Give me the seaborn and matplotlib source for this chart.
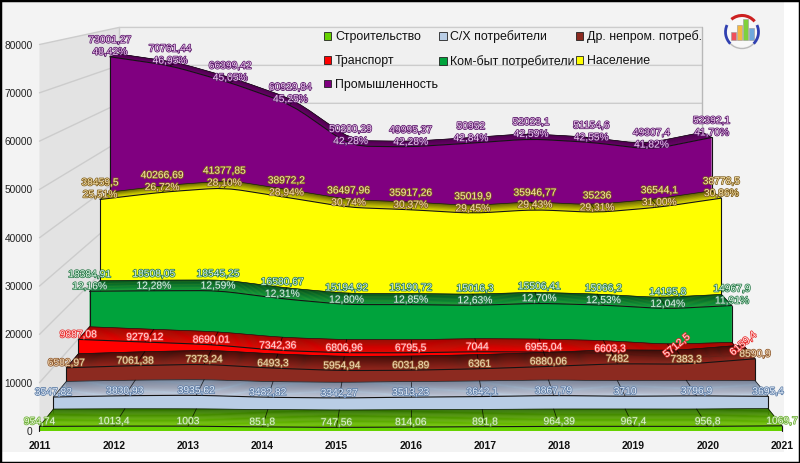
import numpy as np
import matplotlib
matplotlib.use("Agg")
import matplotlib.pyplot as plt
import matplotlib.patheffects as pe
from matplotlib.patches import Patch, Rectangle, Arc, Circle
from matplotlib.colors import to_rgb
import seaborn as sns

# Values
years = [2011, 2012, 2013, 2014, 2015, 2016, 2017, 2018, 2019, 2020, 2021]
stroy = [954.74, 1013.4, 1003, 851.8, 747.56, 814.06, 891.8, 964.39, 967.4, 956.8, 1069.7]
selhoz = [3547.82, 3830.93, 3935.62, 3482.82, 3342.27, 3513.23, 3642.1, 3867.79, 3710, 3796.9, 3695.4]
drugie = [6582.97, 7061.38, 7373.24, 6493.3, 5954.94, 6031.89, 6361, 6880.06, 7482, 7383.3, 8590.9]
transport = [9887.08, 9279.12, 8690.01, 7342.36, 6806.96, 6795.5, 7044, 6955.04, 6603.3, 5712.5, 6159.4]
kombyt = [18384.91, 18508.05, 18545.25, 16580.67, 15194.92, 15190.72, 15016.3, 15506.41, 15066.2, 14195.8, 14967.9]
naselenie = [38459.5, 40266.69, 41377.85, 38972.2, 36497.96, 35917.26, 35019.9, 35946.77, 35236, 36544.1, 38778.5]
prom = [73001.27, 70761.44, 66399.42, 60929.84, 50200.29, 49995.37, 50952, 52023.1, 51154.6, 49307.4, 52392.1]

pct_kombyt = [12.16, 12.28, 12.59, 12.31, 12.80, 12.85, 12.63, 12.70, 12.53, 12.04, 11.91]
pct_naselenie = [25.51, 26.72, 28.10, 28.94, 30.74, 30.37, 29.45, 29.43, 29.31, 31.00, 30.86]
pct_prom = [48.42, 46.95, 45.05, 45.25, 42.28, 42.28, 42.84, 42.59, 42.55, 41.82, 41.70]

y_ticks = [0, 10000, 20000, 30000, 40000, 50000, 60000, 70000, 80000]
logo_bars = [8, 15, 21, 12]
logo_colors = ["#f0505a", "#f5b942", "#7fd13b", "#6fa8dc"]

# name, values, percents, face, top back, top front, label fill, label edge
series = [
    ("Строительство", stroy, None, "#66d200", "#2f6e00", "#72c800", "#e4f8d0", "#6fae3a"),
    ("С/Х потребители", selhoz, None, "#b9cde5", "#76889f", "#c4d3e6", "#e2ebf7", "#5f7fa8"),
    ("Др. непром. потреб.", drugie, None, "#8c2a20", "#3a0d08", "#8c2a20", "#f5dcb8", "#8f5a30"),
    ("Транспорт", transport, None, "#ff0000", "#a80000", "#f00000", "#ffe0e0", "#e83030"),
    ("Ком-быт потребители", kombyt, pct_kombyt, "#00a33c", "#004a1c", "#0a9a40", "#e0f8e8", "#2a7a4a"),
    ("Население", naselenie, pct_naselenie, "#ffff00", "#5c5c00", "#e6e600", "#f8e2a8", "#806020"),
    ("Промышленность", prom, pct_prom, "#800080", "#4a004a", "#660066", "#f0c8f0", "#5a1a6a"),
]

# Perspective of the chart: everything recedes to one point as depth grows
van_year = 2016
van_value = 96480
depth_k = 0.039
n_depth = 7


def project(x, y, depth):
    s = 1 / (1 + depth_k * depth)
    return van_year + (np.asarray(x, float) - van_year) * s, van_value + (np.asarray(y, float) - van_value) * s


def round_corners(x, y, ratio=0.16, passes=2):
    pts = np.column_stack([x, y])
    for _ in range(passes):
        a, b = pts[:-1], pts[1:]
        cut = np.empty((len(a) * 2, 2))
        cut[0::2] = a + (b - a) * ratio
        cut[1::2] = b - (b - a) * ratio
        pts = np.vstack([pts[0], cut, pts[-1]])
    return pts[:, 0], pts[:, 1]


def mix(c1, c2, t):
    return tuple(np.array(to_rgb(c1)) * (1 - t) + np.array(to_rgb(c2)) * t)


sns.set_theme(style="white")
plt.rcParams["font.family"] = ["Liberation Sans", "DejaVu Sans"]

fig = plt.figure(figsize=(8, 4.63), dpi=100, facecolor="white")
ax = fig.add_axes([39.5 / 800, 32 / 463, 742.5 / 800, 386.5 / 463], facecolor="none")
ax.set_xlim(2011, 2021)
ax.set_ylim(0, 80000)
sns.despine(ax=ax, left=True, bottom=True)
ax.set_xticks(years)
ax.set_xticklabels([str(y) for y in years], fontsize=7.5, fontweight="bold", color="#111111")
ax.set_yticks(y_ticks)
ax.set_yticklabels([str(v) for v in y_ticks], fontsize=7.3, color="#222222")
ax.tick_params(axis="x", length=0, pad=7.5)
ax.tick_params(axis="y", length=0, pad=5)

# background panel and frame
fig.patches.append(Rectangle((0, 11 / 463), 783.5 / 800, 452 / 463, transform=fig.transFigure,
                             facecolor="#f3f3f3", edgecolor="none", zorder=-5))
fig.patches.append(Rectangle((0, 0), 1, 1, transform=fig.transFigure,
                             facecolor="none", edgecolor="black", linewidth=2.5, zorder=20))

# walls
wx0, wy0 = project(2011, 0, 0)
wx1, wy1 = project(2011, 80000, 0)
wx2, wy2 = project(2011, 80000, n_depth)
wx3, wy3 = project(2011, 0, n_depth)
wx4, wy4 = project(2021, 80000, n_depth)
wx5, wy5 = project(2021, 0, n_depth)
ax.fill([wx0, wx1, wx2, wx3], [wy0, wy1, wy2, wy3], color="#e3e3e3", lw=0, clip_on=False, zorder=1)
ax.fill([wx3, wx2, wx4, wx5], [wy3, wy2, wy4, wy5], color="#f0f0f0", lw=0, clip_on=False, zorder=1)
for v in y_ticks:
    xa, ya = project(2011, v, 0)
    xb, yb = project(2011, v, n_depth)
    xc, yc = project(2021, v, n_depth)
    ax.plot([xa, xb, xc], [ya, yb, yc], color="#cccccc", lw=1, clip_on=False, zorder=1.5)
ax.plot([wx4, wx5], [wy4, wy5], color="#b8b8b8", lw=1, clip_on=False, zorder=1.5)
ax.plot([wx2, wx3], [wy2, wy3], color="#cccccc", lw=1, clip_on=False, zorder=1.5)

# series back to front, each one starts where the one before it ends
z = 2
for depth in range(len(series) - 1, -1, -1):
    name, values, pcts, face, top_back, top_front, fill_c, edge_c = series[depth]
    sx, sv = round_corners(years, values)

    # top surface as thin strips to get the gradient
    steps = 14
    for i in range(steps):
        t0 = depth + 1 - i / steps
        t1 = depth + 1 - (i + 1) / steps
        xa, ya = project(sx, sv, t0)
        xb, yb = project(sx, sv, t1)
        ax.fill(np.r_[xa, xb[::-1]], np.r_[ya, yb[::-1]], color=mix(top_back, top_front, (i + 0.5) / steps),
                lw=0.3, clip_on=False, zorder=z)
    z += 1

    # lines between years across the top surface
    for yr, v in zip(years, values):
        xa, ya = project(yr, v, depth)
        xb, yb = project(yr, v, depth + 1)
        ax.plot([xa, xb], [ya, yb], color="black", lw=0.6, alpha=0.75, clip_on=False, zorder=z)

    # front face
    fx, fy = project(sx, sv, depth)
    bx, by = project(sx, np.zeros_like(sv), depth)
    ax.fill(np.r_[fx, bx[::-1]], np.r_[fy, by[::-1]], color=face, lw=0, clip_on=False, zorder=z)
    sns.lineplot(x=fx, y=fy, ax=ax, color="#141414", linewidth=0.8, sort=False, estimator=None,
                 legend=False, clip_on=False, zorder=z + 0.5)
    bbx, bby = project(sx, sv, depth + 1)
    sns.lineplot(x=bbx, y=bby, ax=ax, color="#141414", linewidth=0.45, sort=False, estimator=None,
                 legend=False, clip_on=False, zorder=z - 0.5)
    ax.plot([fx[0], bx[0]], [fy[0], by[0]], color="#141414", lw=0.8, clip_on=False, zorder=z + 0.5)
    ax.plot([fx[-1], bx[-1]], [fy[-1], by[-1]], color="#141414", lw=0.8, clip_on=False, zorder=z + 0.5)
    z += 1

# value labels
halo = 1.1
for depth, (name, values, pcts, face, top_back, top_front, fill_c, edge_c) in enumerate(series):
    for i, (yr, v) in enumerate(zip(years, values)):
        px, py = project(yr, v, depth)
        val_txt = f"{v:.2f}".rstrip("0").rstrip(".").replace(".", ",")
        effects = [pe.withStroke(linewidth=halo, foreground=edge_c)]
        rot, up = 0, 5
        if name == "Транспорт" and yr >= 2020:
            rot, up = 40, 12
        if pcts is not None:
            ax.annotate(val_txt, (px, py), xytext=(0, 17 * 0.72), textcoords="offset points", ha="center",
                        va="center", fontsize=7.4, color=fill_c, path_effects=effects, annotation_clip=False,
                        zorder=50)
            ax.annotate(f"{pcts[i]:.2f}%".replace(".", ","), (px, py), xytext=(0, 5 * 0.72),
                        textcoords="offset points", ha="center", va="center", fontsize=7.4, color=fill_c,
                        path_effects=effects, annotation_clip=False, zorder=50)
        else:
            ax.annotate(val_txt, (px, py), xytext=(0, up * 0.72), textcoords="offset points", ha="center",
                        va="center", fontsize=7.4, rotation=rot, color=fill_c, path_effects=effects,
                        annotation_clip=False, zorder=50)

# legend fills by column
legend_order = [0, 3, 6, 1, 4, 2, 5]
handles = [Patch(facecolor=series[i][3], edgecolor="#222222", linewidth=0.6, label=series[i][0]) for i in legend_order]
leg = ax.legend(handles=handles, ncol=3, frameon=False, loc="upper left",
                bbox_to_anchor=(324 / 800, 1 - 30.5 / 463), bbox_transform=fig.transFigure, fontsize=8.9,
                handlelength=0.6, handleheight=0.6, handletextpad=0.3, columnspacing=0.08,
                labelspacing=0.95, borderpad=0, borderaxespad=0, labelcolor="#111111")
leg.set_zorder(60)

# logo top right
logo = fig.add_axes([722 / 800, 1 - 52 / 463, 40 / 800, 40 / 463], facecolor="none")
logo.set_xlim(0, 40)
logo.set_ylim(40, 0)
logo.axis("off")
logo.add_patch(Circle((20, 20), 15, facecolor="#f8f8f8", edgecolor="none"))
logo.bar(range(11, 35, 6), logo_bars, width=5.0, bottom=[28 - b for b in logo_bars], color=logo_colors,
         edgecolor="#999999", linewidth=0.4)
logo.add_patch(Arc((20, 20), 33, 33, theta1=40, theta2=140, color="#bbbbbb", lw=1))
logo.add_patch(Arc((20, 20), 33, 33, theta1=135, theta2=205, color="#3040b0", lw=2))
logo.add_patch(Arc((20, 20), 33, 33, theta1=-25, theta2=45, color="#3040b0", lw=2))
logo.add_patch(Arc((20, 20), 33, 33, theta1=-130, theta2=-40, color="#cc2020", lw=2.2))

fig.savefig("out.png", dpi=100, facecolor=fig.get_facecolor())
